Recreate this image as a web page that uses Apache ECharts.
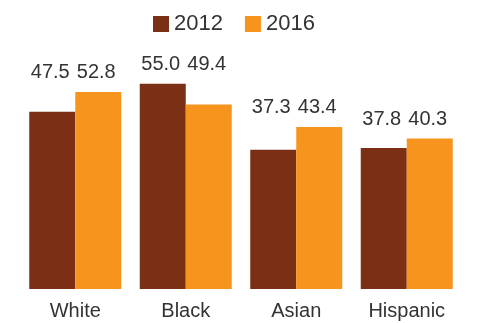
<!DOCTYPE html>
<html>
<head>
<meta charset="utf-8">
<script src="https://cdn.jsdelivr.net/npm/echarts@6/dist/echarts.min.js"></script>
<style>
html,body{margin:0;padding:0;background:#fff;}
#main{width:477px;height:323px;}
</style>
</head>
<body>
<div id="main"></div>
<script>
// groups and values per year
var groups = ['White', 'Black', 'Asian', 'Hispanic'];
var years = ['2012', '2016'];
var v2012 = [47.5, 55.0, 37.3, 37.8];
var v2016 = [52.8, 49.4, 43.4, 40.3];

var allVals = [v2012, v2016];
var colors = ['#7b2f14', '#f7941d'];
var txt = '#333333';
var font = '"Liberation Sans", Arial, sans-serif';

var myChart = echarts.init(document.getElementById('main'));

// both labels of a group sit at the height of the taller bar
function groupLabel(params){
	var r = params.rect;
	var idx = params.dataIndex;
	var v = allVals[params.seriesIndex][idx];
	var m = Math.max(v2012[idx], v2016[idx]);
	var base = r.y + r.height;
	var topY = base - m * r.height / v;
	return {
		x: r.x + r.width / 2 - 2,
		y: topY - 19,
		align: 'center',
		verticalAlign: 'middle'
	};
}

function makeSeries(i){
	return {
		name: years[i],
		type: 'bar',
		data: allVals[i],
		barWidth: 46,
		barGap: '0%',
		itemStyle: {color: colors[i]},
		label: {
			show: true,
			position: 'top',
			color: txt,
			fontSize: 20,
			fontFamily: font,
			formatter: function(p){ return p.value.toFixed(1); }
		},
		labelLayout: groupLabel
	};
}

myChart.setOption({
	animation: false,
	backgroundColor: '#ffffff',
	legend: {
		data: years,
		left: 148,
		top: 8,
		icon: 'rect',
		itemWidth: 16,
		itemHeight: 16,
		itemGap: 22,
		textStyle: {color: txt, fontSize: 22, fontFamily: font}
	},
	grid: {
		left: 20,
		right: 15,
		top: 65,
		bottom: 34
	},
	xAxis: {
		type: 'category',
		data: groups,
		axisLine: {show: false},
		axisTick: {show: false},
		axisLabel: {color: txt, fontSize: 20, fontFamily: font, margin: 12}
	},
	yAxis: {
		type: 'value',
		min: 0,
		max: 60,
		show: false,
		splitLine: {show: false}
	},
	series: [makeSeries(0), makeSeries(1)]
});
</script>
</body>
</html>
